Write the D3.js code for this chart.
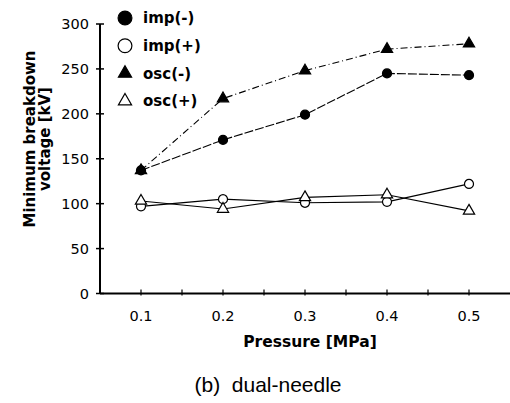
<!DOCTYPE html>
<html>
<head>
<meta charset="utf-8">
<script src="https://cdn.jsdelivr.net/npm/d3@7"></script>
<style>
  body { margin: 0; background: #fff; }
  svg text { font-family: "DejaVu Sans", sans-serif; fill: #000; }
</style>
</head>
<body>
<div id="chart"></div>
<script>
var pressure = [0.1, 0.2, 0.3, 0.4, 0.5];
var impNeg = [137, 171, 199, 245, 243];
var impPos = [97, 105, 101, 102, 122];
var oscNeg = [137, 217, 248, 272, 278];
var oscPos = [103, 94, 107, 110, 92];
var xTicks = [0.1, 0.2, 0.3, 0.4, 0.5];
var xMinor = [0.15, 0.25, 0.35, 0.45];
var yTicks = [0, 50, 100, 150, 200, 250, 300];

var width = 510, height = 403;

var svg = d3.select("#chart").append("svg")
    .attr("width", width)
    .attr("height", height);

var x = d3.scaleLinear().domain([0.05, 0.55]).range([100, 510]),
    y = d3.scaleLinear().domain([0, 300]).range([293.5, 24]);

// axes
svg.append("line")
    .attr("x1", 100).attr("x2", 100)
    .attr("y1", y(300)).attr("y2", y(0))
    .attr("stroke", "#000").attr("stroke-width", 2);
svg.append("line")
    .attr("x1", 100).attr("x2", 510)
    .attr("y1", y(0)).attr("y2", y(0))
    .attr("stroke", "#000").attr("stroke-width", 2);

svg.selectAll(".ytick")
  .data(yTicks)
  .enter().append("line")
    .attr("x1", 96).attr("x2", 104)
    .attr("y1", function(d) { return y(d); })
    .attr("y2", function(d) { return y(d); })
    .attr("stroke", "#000").attr("stroke-width", 1.5);

svg.selectAll(".ylab")
  .data(yTicks)
  .enter().append("text")
    .attr("x", 89)
    .attr("y", function(d) { return y(d); })
    .attr("dy", "0.35em")
    .attr("text-anchor", "end")
    .style("font-size", "14.5px")
    .text(function(d) { return d; });

svg.selectAll(".xtick")
  .data(xTicks.concat(xMinor))
  .enter().append("line")
    .attr("x1", function(d) { return x(d); })
    .attr("x2", function(d) { return x(d); })
    .attr("y1", y(0) - 4).attr("y2", y(0) + 2)
    .attr("stroke", "#000").attr("stroke-width", 1.2);

svg.selectAll(".xlab")
  .data(xTicks)
  .enter().append("text")
    .attr("x", function(d) { return x(d); })
    .attr("y", 316)
    .attr("dy", "0.35em")
    .attr("text-anchor", "middle")
    .style("font-size", "14.5px")
    .text(function(d) { return d3.format(".1f")(d); });

// titles
svg.append("text")
    .attr("x", 310).attr("y", 342)
    .attr("dy", "0.35em")
    .attr("text-anchor", "middle")
    .style("font-size", "15.5px").style("font-weight", "bold")
    .text("Pressure [MPa]");

var yt = svg.append("text")
    .attr("transform", "translate(35,139) rotate(-90)")
    .attr("text-anchor", "middle")
    .style("font-size", "15px").style("font-weight", "bold");
yt.append("tspan").attr("x", 0).attr("y", 0).text("Minimum breakdown");
yt.append("tspan").attr("x", 0).attr("y", 15).text("voltage [kV]");

svg.append("text")
    .attr("x", 268).attr("y", 385)
    .attr("dy", "0.35em")
    .attr("text-anchor", "middle")
    .style("font-family", "Liberation Sans, sans-serif")
    .style("font-size", "21px")
    .style("white-space", "pre")
    .text("(b)  dual-needle");

// series
var series = [
  {name: "imp(-)", values: impNeg, shape: "circle", fill: "#000", dash: "9,2"},
  {name: "imp(+)", values: impPos, shape: "circle", fill: "#fff", dash: null},
  {name: "osc(-)", values: oscNeg, shape: "triangle", fill: "#000", dash: "7,3,1,3"},
  {name: "osc(+)", values: oscPos, shape: "triangle", fill: "#fff", dash: null}
];

var line = d3.line()
    .x(function(d, i) { return x(pressure[i]); })
    .y(function(d) { return y(d); });

series.forEach(function(s) {
  svg.append("path")
      .datum(s.values)
      .attr("d", line)
      .attr("fill", "none")
      .attr("stroke", "#000")
      .attr("stroke-width", 1.1)
      .attr("stroke-dasharray", s.dash);
});

function marker(g, s, size) {
  var sym = d3.symbol()
      .type(s.shape == "circle" ? d3.symbolCircle : d3.symbolTriangle)
      .size(size);
  return g.append("path")
      .attr("d", sym)
      .attr("fill", s.fill)
      .attr("stroke", "#000")
      .attr("stroke-width", 1.2);
}

series.forEach(function(s) {
  s.values.forEach(function(v, i) {
    var g = svg.append("g")
        .attr("transform", "translate(" + x(pressure[i]) + "," + y(v) + ")");
    marker(g, s, s.shape == "circle" ? 64 : 55);
  });
});

// legend
series.forEach(function(s, i) {
  var ly = 18 + i * 27.7;
  var g = svg.append("g").attr("transform", "translate(125," + ly + ")");
  marker(g, s, s.shape == "circle" ? 150 : 75);
  svg.append("text")
      .attr("x", 143).attr("y", ly)
      .attr("dy", "0.35em")
      .style("font-size", "15px").style("font-weight", "bold")
      .text(s.name);
});
</script>
</body>
</html>
